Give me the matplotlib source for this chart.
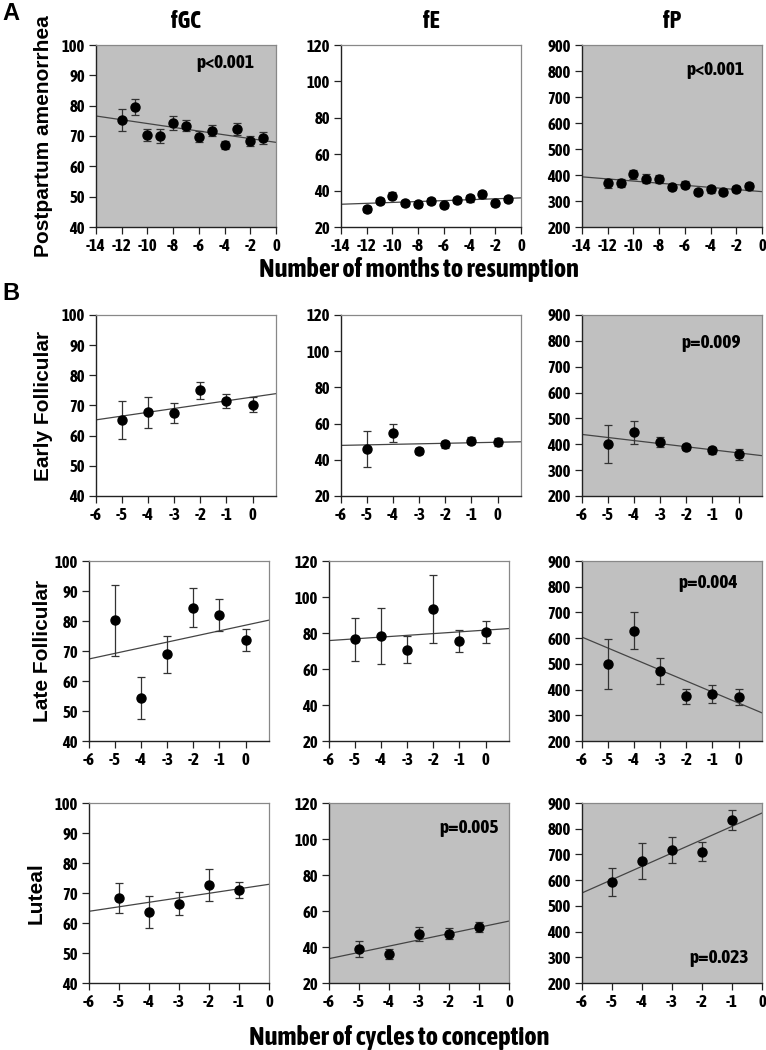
import numpy as np
import matplotlib
matplotlib.use("Agg")
import matplotlib.pyplot as plt
from matplotlib import font_manager as fm

plt.rcParams["axes.unicode_minus"] = False


def _w(f):
    w = f.weight
    if isinstance(w, str):
        return {"bold": 700, "heavy": 800, "black": 900, "semibold": 600,
                "demibold": 600, "extra bold": 800}.get(w.lower(), 400)
    return int(w)


def _narrow(f):
    return ("Narrow" in f.name or "Condensed" in f.name
            or f.stretch in ("condensed", "semi-condensed", "extra-condensed"))


# bold narrow face if one is installed, otherwise bold Liberation Sans
cands = [f for f in fm.fontManager.ttflist if _narrow(f) and 650 <= _w(f) <= 800
         and f.style == "normal"]
cands.sort(key=lambda f: (abs(_w(f) - 700), f.name))
if cands:
    NB = dict(fontproperties=fm.FontProperties(fname=cands[0].fname))
    HAVE_NARROW = True
else:
    NB = dict(family=["Liberation Sans", "DejaVu Sans"], fontweight="bold")
    HAVE_NARROW = False
WIDE = ["Liberation Sans", "DejaVu Sans"]

# --- data ---
months = [-12, -11, -10, -9, -8, -7, -6, -5, -4, -3, -2, -1]
cycles_fol = [-5, -4, -3, -2, -1, 0]
cycles_lut = [-5, -4, -3, -2, -1]

pa_fgc = [75.3, 79.6, 70.4, 70.1, 74.3, 73.4, 69.8, 71.7, 67.0, 72.4, 68.4, 69.4]
pa_fgc_err = [3.7, 2.7, 2.0, 2.3, 2.2, 1.8, 1.8, 1.8, 1.3, 2.0, 1.7, 1.9]
pa_fe = [30.1, 34.3, 37.1, 33.4, 32.5, 34.1, 31.9, 35.0, 35.8, 38.0, 33.2, 35.6]
pa_fe_err = [1.6, 1.8, 1.9, 1.7, 1.5, 1.6, 1.5, 1.7, 1.8, 2.0, 1.7, 1.7]
pa_fp = [368, 370, 403, 385, 384, 354, 363, 335, 345, 335, 346, 357]
pa_fp_err = [18, 16, 18, 17, 15, 13, 14, 12, 14, 12, 13, 14]

ef_fgc = [65.2, 67.7, 67.4, 75.0, 71.5, 70.2]
ef_fgc_err = [6.4, 5.1, 3.3, 2.9, 2.4, 2.5]
ef_fe = [46.0, 54.6, 45.0, 48.5, 50.6, 49.6]
ef_fe_err = [9.8, 5.0, 1.6, 1.8, 1.8, 2.2]
ef_fp = [401, 446, 408, 389, 377, 361]
ef_fp_err = [73, 44, 19, 13, 14, 20]

lf_fgc = [80.2, 54.2, 68.9, 84.4, 82.0, 73.6]
lf_fgc_err = [11.8, 7.0, 6.2, 6.5, 5.4, 3.6]
lf_fe = [76.4, 78.3, 70.8, 93.5, 75.5, 80.5]
lf_fe_err = [11.9, 15.6, 7.7, 19.0, 6.3, 6.0]
lf_fp = [500, 629, 472, 374, 381, 370]
lf_fp_err = [97, 71, 51, 30, 35, 31]

lu_fgc = [68.2, 63.6, 66.4, 72.7, 71.1]
lu_fgc_err = [5.0, 5.4, 3.8, 5.4, 2.6]
lu_fe = [38.9, 36.3, 47.2, 47.4, 51.1]
lu_fe_err = [4.3, 2.8, 3.9, 3.0, 2.7]
lu_fp = [593, 676, 717, 710, 835]
lu_fp_err = [53, 70, 49, 37, 39]

# regression lines (slope, intercept at x=0)
pa_fits = [(-0.621, 67.9), (0.25, 36.0), (-4.07, 336)]
ef_fits = [(1.26, 72.8), (0.29, 49.7), (-11.9, 366.7)]
lf_fits = [(1.876, 78.6), (0.967, 81.6), (-42.7, 347.8)]
lu_fits = [(1.5, 72.9), (3.48, 54.4), (51.8, 861)]

hormones = ["fGC", "fE", "fP"]
ylims = [(40, 100, 10), (20, 120, 20), (200, 900, 100)]

rows = [
    dict(x=months, means=[pa_fgc, pa_fe, pa_fp], errs=[pa_fgc_err, pa_fe_err, pa_fp_err],
         fits=pa_fits, xlim=(-14, 0), xticks=range(-14, 1, 2),
         shaded=[True, False, True],
         ptext={0: ("p<0.001", 0.72, 0.90), 2: ("p<0.001", 0.74, 0.86)},
         top=45, bottom=227, lefts=[96, 341, 582], label="Postpartum amenorrhea", labx=44),
    dict(x=cycles_fol, means=[ef_fgc, ef_fe, ef_fp], errs=[ef_fgc_err, ef_fe_err, ef_fp_err],
         fits=ef_fits, xlim=(-6, 0.9), xticks=range(-6, 1),
         shaded=[False, False, True],
         ptext={2: ("p=0.009", 0.72, 0.845)},
         top=315, bottom=496, lefts=[96, 341, 582], label="Early Follicular", labx=44),
    dict(x=cycles_fol, means=[lf_fgc, lf_fe, lf_fp], errs=[lf_fgc_err, lf_fe_err, lf_fp_err],
         fits=lf_fits, xlim=(-6, 0.9), xticks=range(-6, 1),
         shaded=[False, False, True],
         ptext={2: ("p=0.004", 0.70, 0.88)},
         top=561, bottom=741, lefts=[89, 329, 582], label="Late Follicular", labx=42),
    dict(x=cycles_lut, means=[lu_fgc, lu_fe, lu_fp], errs=[lu_fgc_err, lu_fe_err, lu_fp_err],
         fits=lu_fits, xlim=(-6, 0), xticks=range(-6, 1),
         shaded=[False, True, True],
         ptext={1: ("p=0.005", 0.78, 0.86), 2: ("p=0.023", 0.76, 0.14)},
         top=803, bottom=983, lefts=[89, 329, 582], label="Luteal", labx=36),
]

W, H = 766, 1050
fig = plt.figure(figsize=(W / 100, H / 100), dpi=100)
AW = 180
tick_fs = 12 if HAVE_NARROW else 8.8
p_fs = 14 if HAVE_NARROW else 11
title_fs = 17 if HAVE_NARROW else 13.5
xlab_fs = 19 if HAVE_NARROW else 14.5

for r in rows:
    for j in range(3):
        left = r["lefts"][j]
        ax = fig.add_axes([left / W, 1 - r["bottom"] / H, AW / W, (r["bottom"] - r["top"]) / H])
        ax.set_facecolor("#c0c0c0" if r["shaded"][j] else "white")
        lo, hi, step = ylims[j]
        ax.set_ylim(lo, hi)
        ax.set_yticks(np.arange(lo, hi + 1, step))
        ax.set_xlim(*r["xlim"])
        ax.set_xticks(list(r["xticks"]))

        slope, icpt = r["fits"][j]
        xs = np.array(r["xlim"])
        ax.plot(xs, slope * xs + icpt, color="#444444", lw=0.9, zorder=2)
        ax.errorbar(r["x"], r["means"][j], yerr=r["errs"][j], fmt="o", color="black",
                    ms=6.5, ecolor="#333333", elinewidth=0.9, capsize=3, capthick=0.9, zorder=3)

        for s in ["left", "bottom"]:
            ax.spines[s].set_color("#222222")
            ax.spines[s].set_linewidth(1.0)
        for s in ["top", "right"]:
            ax.spines[s].set_color("#888888")
            ax.spines[s].set_linewidth(0.9)
        ax.tick_params(direction="out", length=5, width=0.9, color="#222222", pad=3)
        for lab in ax.get_xticklabels() + ax.get_yticklabels():
            if HAVE_NARROW:
                lab.set_fontproperties(NB["fontproperties"])
            else:
                lab.set_family(NB["family"])
                lab.set_fontweight("bold")
            lab.set_fontsize(tick_fs)

        if j in r["ptext"]:
            t, px, py = r["ptext"][j]
            ax.text(px, py, t, transform=ax.transAxes, ha="center", va="center",
                    fontsize=p_fs, **NB)

    cy = (r["top"] + r["bottom"]) / 2
    fig.text(r["labx"] / W, 1 - cy / H, r["label"], rotation=90, ha="center", va="center",
             family=WIDE, fontweight="bold", fontsize=15)

# column titles
for name, cx in zip(hormones, [186, 431, 672]):
    fig.text(cx / W, 1 - 22 / H, name, ha="center", va="center", fontsize=title_fs, **NB)

fig.text(419 / W, 1 - 270 / H, "Number of months to resumption", ha="center", va="center",
         fontsize=xlab_fs, **NB)
fig.text(399 / W, 1 - 1037 / H, "Number of cycles to conception", ha="center", va="center",
         fontsize=xlab_fs, **NB)
fig.text(11 / W, 1 - 14 / H, "A", ha="center", va="center", family=WIDE,
         fontweight="bold", fontsize=17)
fig.text(11 / W, 1 - 294 / H, "B", ha="center", va="center", family=WIDE,
         fontweight="bold", fontsize=17)

fig.savefig("out.png", dpi=100)
